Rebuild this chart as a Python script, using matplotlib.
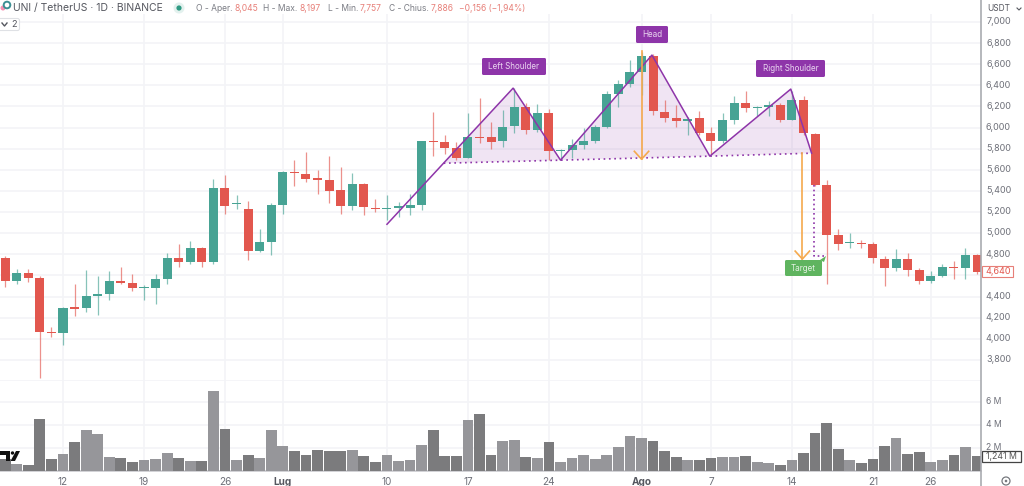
import matplotlib
matplotlib.use('Agg')
import matplotlib.pyplot as plt
from matplotlib.patches import Circle, FancyBboxPatch, Polygon, Rectangle

plt.rcParams['font.family'] = ['Inter', 'DejaVu Sans']

# candles, one per day, day 0 = 12 Jun
days = list(range(-5, 80))
opens = [4768, 4547, 4626, 4579, 4064, 4058, 4298, 4288, 4402, 4427,
         4550, 4528, 4481, 4478, 4569, 4768, 4724, 4857, 4727, 5429,
         5274, 5224, 4828, 4920, 5268, 5581, 5562, 5518, 5502, 5406,
         5261, 5470, 5242, 5225, 5236, 5240, 5270, 5868, 5861, 5808,
         5710, 5912, 5906, 5871, 6013, 6196, 5981, 6133, 5778, 5786,
         5836, 5868, 6007, 6316, 6411, 6522, 6677, 6146, 6089, 6064,
         6086, 5944, 5871, 6076, 6237, 6188, 6193, 6218, 6076, 6256,
         5943, 5454, 4986, 4907, 4905, 4894, 4758, 4670, 4758, 4654,
         4550, 4597, 4682, 4673, 4793]
closes = [4547, 4626, 4579, 4064, 4058, 4294, 4285, 4402, 4427, 4550,
          4528, 4481, 4486, 4569, 4768, 4727, 4857, 4727, 5429, 5258,
          5285, 4832, 4920, 5268, 5581, 5565, 5514, 5502, 5400, 5261,
          5470, 5248, 5226, 5232, 5261, 5270, 5868, 5862, 5808, 5716,
          5906, 5899, 5865, 6007, 6196, 5981, 6133, 5776, 5786, 5836,
          5868, 6004, 6316, 6411, 6522, 6677, 6152, 6092, 6064, 6083,
          5944, 5871, 6070, 6237, 6184, 6196, 6215, 6076, 6256, 5944,
          5454, 4986, 4901, 4913, 4895, 4762, 4670, 4758, 4654, 4547,
          4594, 4679, 4673, 4793, 4635]
highs = [4784, 4664, 4664, 4592, 4111, 4301, 4516, 4655, 4592, 4639,
         4680, 4610, 4513, 4617, 4813, 4901, 4923, 4870, 5511, 5549,
         5360, 5300, 5043, 5290, 5590, 5691, 5770, 5596, 5729, 5628,
         5571, 5479, 5327, 5359, 5296, 5375, 5874, 6149, 5928, 5865,
         6133, 6275, 6054, 6165, 6370, 6228, 6219, 6171, 5800, 5887,
         5991, 6023, 6348, 6449, 6639, 6718, 6692, 6260, 6212, 6101,
         6158, 6007, 6140, 6297, 6345, 6205, 6253, 6228, 6348, 6297,
         5950, 5501, 5043, 5000, 4938, 4916, 4780, 4853, 4812, 4670,
         4641, 4705, 4733, 4863, 4806]
lows = [4490, 4522, 4538, 3624, 4016, 3937, 4212, 4253, 4222, 4364,
        4516, 4452, 4370, 4326, 4522, 4680, 4712, 4680, 4712, 5186,
        5224, 4743, 4822, 4797, 5179, 5445, 5486, 5369, 5290, 5185,
        5217, 5176, 5201, 5122, 5150, 5176, 5217, 5729, 5754, 5690,
        5710, 5849, 5801, 5817, 5944, 5937, 5959, 5691, 5691, 5707,
        5792, 5849, 6000, 6190, 6386, 6307, 6117, 6054, 6007, 5928,
        5928, 5754, 5849, 6038, 6149, 6108, 6108, 6054, 6070, 5928,
        5450, 4521, 4844, 4863, 4863, 4717, 4499, 4641, 4591, 4521,
        4528, 4585, 4566, 4569, 4616]
volumes = [1.07, 0.64, 0.52, 4.55, 1.01, 1.45, 2.49, 3.54, 3.25, 1.22,
           1.13, 0.81, 0.93, 1.04, 1.57, 1.16, 0.87, 0.90, 6.96, 3.68,
           0.99, 1.42, 1.16, 3.54, 2.14, 1.77, 1.42, 1.83, 1.74, 1.77,
           1.83, 1.28, 0.78, 1.42, 0.84, 0.99, 2.23, 3.57, 1.33, 1.33,
           4.46, 4.90, 1.36, 2.61, 2.67, 1.25, 1.16, 2.49, 0.78, 1.16,
           1.42, 1.07, 1.42, 2.06, 3.04, 2.90, 2.64, 1.77, 1.25, 0.96,
           0.99, 1.13, 1.22, 1.22, 1.33, 0.81, 0.67, 0.49, 0.96, 1.59,
           3.33, 4.12, 1.94, 0.96, 0.72, 1.01, 2.20, 2.84, 1.48, 1.68,
           0.78, 0.96, 1.39, 2.09, 1.28]

# axis labels
date_ticks = [0, 7, 14, 19, 28, 35, 42, 50, 56, 63, 70, 75]
date_labels = ['12', '19', '26', 'Lug', '10', '17', '24', 'Ago', '7', '14', '21', '26']
price_ticks = [3800, 4000, 4200, 4400, 4800, 5000, 5200, 5400, 5600, 5800,
               6000, 6200, 6400, 6600, 6800, 7000]
grid_prices = list(range(3600, 7001, 200))
volume_ticks = [2, 4, 6]
volume_labels = ['2 M', '4 M', '6 M']

# drawn pattern
pattern_x = [28, 38.9, 43, 50.9, 55.9, 62.9, 64.7]
pattern_y = [5084, 6373, 5691, 6686, 5729, 6364, 5757]
neck_x = [32.9, 43, 55.9, 64.7]
neck_y = [5662, 5691, 5729, 5757]
fill_x = [32.9, 38.9, 43, 50.9, 55.9, 62.9, 64.7]
fill_y = [5662, 6373, 5691, 6686, 5729, 6364, 5757]
head_arrow_x = 50
head_arrow_y = [6720, 5700]
target_arrow_x = 63.9
target_arrow_y = [5757, 4755]
move_x = [64.9, 64.9, 65.9]
move_y = [5454, 4780, 4780]

GREEN = '#47a394'
RED = '#e2574e'
GRID = '#f3f4f7'
PURPLE = '#8e35a9'
ORANGE = '#f5a94d'
LABEL = '#6e7079'

fig = plt.figure(figsize=(10.24, 4.86), dpi=100)
W, H = 1024.0, 486.0


def make_axes(top, bottom):
    a = fig.add_axes([0, 1 - bottom / H, 981 / W, (bottom - top) / H])
    a.set_xlim(-5.445, 79.34)
    a.set_facecolor('none')
    for s in a.spines.values():
        s.set_visible(False)
    a.set_xticks(date_ticks)
    a.grid(True, color=GRID, lw=1.2, zorder=0)
    a.set_axisbelow(True)
    return a


ax = make_axes(14, 381)
ax.set_ylim(3600, 7075)
ax.set_yticks(grid_prices)
ax.tick_params(axis='both', length=0, labelbottom=False, labelleft=False)

axv = make_axes(381, 471)
axv.set_ylim(0, 7.8)
axv.set_yticks(volume_ticks)
axv.tick_params(axis='y', length=0, labelleft=False)
axv.tick_params(axis='x', length=0, pad=4)
axv.set_xticklabels(date_labels, fontsize=7.2, color=LABEL)
for lab in axv.get_xticklabels():
    if lab.get_text() in ('Lug', 'Ago'):
        lab.set_fontweight('bold')
        lab.set_color('#55575f')
axv.axhline(0, color='#c9cace', lw=1.2, clip_on=False)

# volume bars
for d, o, c, v in zip(days, opens, closes, volumes):
    axv.bar(d, v, width=0.93, color='#96969a' if c >= o else '#7b7b7d', zorder=2)

# pattern fill sits under the candles
ax.add_patch(Polygon(list(zip(fill_x, fill_y)), closed=True, facecolor=PURPLE, alpha=0.13,
                     edgecolor='none', zorder=1))

# candles
for d, o, c, h, l in zip(days, opens, closes, highs, lows):
    col = GREEN if c >= o else RED
    ax.plot([d, d], [l, h], color=col, lw=0.9, alpha=0.65, zorder=3, solid_capstyle='butt')
    ax.add_patch(Rectangle((d - 0.39, min(o, c)), 0.78, max(abs(c - o), 9), facecolor=col,
                           edgecolor='none', zorder=4))

# head and shoulders lines
ax.plot(pattern_x, pattern_y, color=PURPLE, lw=1.1, zorder=5)
ax.plot(neck_x, neck_y, color=PURPLE, lw=1.2, ls=(0, (1, 2.2)), zorder=5)
ax.plot([head_arrow_x] * 2, head_arrow_y, color=ORANGE, lw=1.2, zorder=5)
ax.plot([target_arrow_x] * 2, target_arrow_y, color=ORANGE, lw=1.2, zorder=5)
for ax_x, tip in ((head_arrow_x, head_arrow_y[1]), (target_arrow_x, target_arrow_y[1])):
    ax.plot([ax_x - 0.62, ax_x, ax_x + 0.62], [tip + 75, tip, tip + 75], color=ORANGE, lw=1.2, zorder=5)
ax.plot(move_x, move_y, color=PURPLE, lw=1.2, ls=(0, (1, 1.8)), zorder=5)

# overlay in pixel coordinates for the chart furniture
ov = fig.add_axes([0, 0, 1, 1])
ov.set_xlim(0, W)
ov.set_ylim(H, 0)
ov.axis('off')
ov.patch.set_alpha(0)

ov.plot([981, 981], [0, 486], color='#a9abb0', lw=1.2)


def tag(x0, x1, y0, y1, text, color, fg):
    ov.add_patch(FancyBboxPatch((x0 + 1, y0 + 1), x1 - x0 - 2, y1 - y0 - 2,
                                boxstyle='round,pad=1,rounding_size=1.5', facecolor=color, edgecolor='none'))
    ov.text((x0 + x1) / 2, (y0 + y1) / 2, text, color=fg, fontsize=5.8, ha='center', va='center')


tag(482, 546, 58, 75, 'Left Shoulder', PURPLE, '#ead6f0')
tag(636, 668, 26, 43, 'Head', PURPLE, '#ead6f0')
tag(756, 825, 60, 77, 'Right Shoulder', PURPLE, '#ead6f0')
tag(785, 822, 260, 276, 'Target', '#5fb45f', '#e5f3e4')
ov.add_patch(Polygon([(820, 260), (826, 256), (824, 262)], closed=True, facecolor='#5fb45f', edgecolor='none'))

# header
ov.add_patch(Circle((3, 8), 2.5, facecolor='#f48fb1', edgecolor='none'))
ov.add_patch(Circle((7, 5), 3.3, facecolor='none', edgecolor='#3d8f94', lw=1.4))
ov.text(13, 8, 'UNI / TetherUS · 1D · BINANCE', fontsize=7.5, color='#55575f', va='center')
ov.add_patch(Circle((179, 8), 5.5, facecolor='#e3f1ee', edgecolor='none'))
ov.add_patch(Circle((179, 8), 2.6, facecolor='#2f9a83', edgecolor='none'))
parts = [(196, 'O - Aper.', '#7a7c84'), (234.5, '8,045', '#e77f78'),
         (263, 'H - Max.', '#7a7c84'), (299.5, '8,197', '#e77f78'),
         (328, 'L - Min.', '#7a7c84'), (360, '7,757', '#e77f78'),
         (389, 'C - Chius.', '#7a7c84'), (431, '7,886', '#e77f78'),
         (459, '−0,156 (−1,94%)', '#e77f78')]
for x, s, col in parts:
    ov.text(x, 8.5, s, fontsize=6.1, color=col, va='center')
ov.add_patch(FancyBboxPatch((-4, 19), 23, 11, boxstyle='round,pad=0.5,rounding_size=2', facecolor='white',
                            edgecolor='#dfe1e5', lw=0.8))
ov.plot([2, 4.5, 7], [23, 26, 23], color='#55575f', lw=1)
ov.text(14, 24.5, '2', fontsize=6.6, color='#55575f', ha='center', va='center')

# right axis labels
ov.text(987, 8.5, 'USDT', fontsize=6, color='#55575f', va='center')
ov.plot([1017, 1019, 1021], [8, 10, 8], color='#55575f', lw=0.8)
for p in price_ticks:
    ov.text(998.5, 43 + (6800 - p) * 21.1 / 200, f'{p:,}', fontsize=6.5, color=LABEL, ha='center', va='center')
for v, lab in zip(volume_ticks, volume_labels):
    ov.text(994, 470.7 - v * 11.5, lab, fontsize=6.2, color=LABEL, ha='center', va='center')
ov.add_patch(Rectangle((982, 266), 31, 11, facecolor='white', edgecolor='#e77f78', lw=0.8))
ov.text(998, 271.5, '4,640', fontsize=6.5, color='#e2574e', ha='center', va='center')
ov.add_patch(Rectangle((982, 451), 39, 10.5, facecolor='white', edgecolor='#444444', lw=0.9))
ov.text(1001.5, 456.3, '1,241 M', fontsize=6.3, color='#555555', ha='center', va='center')
ov.add_patch(Circle((1006, 481), 4, facecolor='white', edgecolor='#77797f', lw=0.9))
ov.add_patch(Circle((1006, 481), 1.3, facecolor='#77797f', edgecolor='none'))

# logo fragment, bottom left
ov.add_patch(Polygon([(0, 451), (10, 451), (10, 461), (6, 461), (6, 455), (0, 455)], closed=True,
                     facecolor='#111111', edgecolor='none'))
ov.add_patch(Circle((12.5, 453), 1.7, facecolor='#111111', edgecolor='none'))
ov.add_patch(Polygon([(16, 451), (20, 451), (15, 461), (10.5, 461)], closed=True, facecolor='#111111',
                     edgecolor='none'))

fig.savefig('out.png', dpi=100, facecolor='white')
